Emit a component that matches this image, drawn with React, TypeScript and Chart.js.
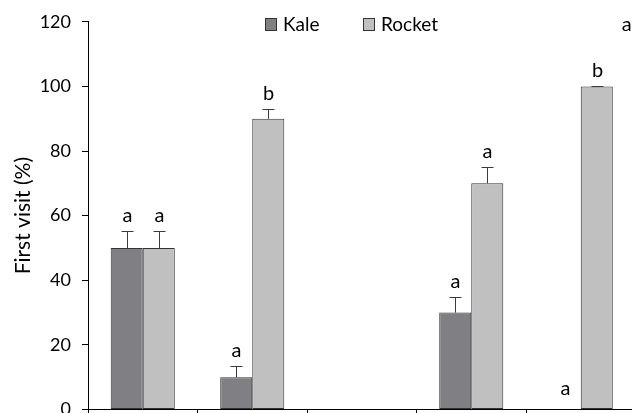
import React, { useEffect, useRef } from "react";
import { Chart, registerables } from "chart.js";

Chart.register(...registerables);

// ---- data ----
const categories = ["T1", "T2", "T3", "T4", "T5"];
const kaleValues: (number | null)[] = [50, 10, null, 30, 0];
const rocketValues: (number | null)[] = [50, 90, null, 70, 100];
const kaleErrors: (number | null)[] = [5.4, 3.4, null, 4.8, 0];
const rocketErrors: (number | null)[] = [5.4, 3, null, 5, 0.2];
const kaleLetters = ["a", "a", "", "a", "a"];
const rocketLetters = ["a", "b", "", "a", "b"];
const seriesNames = ["Kale", "Rocket"];
const cornerLetter = "a";
const yMin = 0;
const yMax = 120;
const yStep = 20;
const yTitle = "First visit (%)";

const FONT = "Lato";
const KALE_COLOR = "#808084";
const ROCKET_COLOR = "#c0c0c0";
const BORDER = "#333333";

const errorsByDataset = [kaleErrors, rocketErrors];
const lettersByDataset = [kaleLetters, rocketLetters];

const annotPlugin = {
  id: "annot",
  afterDatasetsDraw(chart: any) {
    const ctx = chart.ctx;
    const y = chart.scales.y;
    ctx.save();
    // error bars
    chart.data.datasets.forEach((ds: any, di: number) => {
      const meta = chart.getDatasetMeta(di);
      meta.data.forEach((bar: any, i: number) => {
        const v = ds.data[i];
        const e = errorsByDataset[di][i];
        if (v == null || e == null) return;
        const x = Math.round(bar.x) + 0.5;
        const top = y.getPixelForValue(v);
        const errTop = Math.round(y.getPixelForValue(v + e)) + 0.5;
        if (v > 0) {
          ctx.strokeStyle = "#3a3a3a";
          ctx.lineWidth = 1;
          ctx.beginPath();
          ctx.moveTo(x, top);
          ctx.lineTo(x, errTop);
          ctx.moveTo(x - 6, errTop);
          ctx.lineTo(x + 6, errTop);
          ctx.stroke();
        }
        const letter = lettersByDataset[di][i];
        if (letter) {
          ctx.fillStyle = "#000";
          ctx.font = `20px ${FONT}`;
          ctx.textAlign = "center";
          ctx.textBaseline = "alphabetic";
          ctx.fillText(letter, x, errTop - (v > 0 ? 10 : 16));
        }
      });
    });
    // legend
    const ca = chart.chartArea;
    const lx = ca.left + 177;
    const ly = 25;
    const items = [
      { name: seriesNames[0], color: KALE_COLOR, x: lx },
      { name: seriesNames[1], color: ROCKET_COLOR, x: lx + 98 },
    ];
    ctx.font = `19px ${FONT}`;
    ctx.textAlign = "left";
    ctx.textBaseline = "middle";
    items.forEach((it) => {
      ctx.fillStyle = it.color;
      ctx.fillRect(it.x + 0.5, ly - 6.5, 11, 12);
      ctx.strokeStyle = BORDER;
      ctx.lineWidth = 1;
      ctx.strokeRect(it.x + 0.5, ly - 6.5, 11, 12);
      ctx.fillStyle = "#000";
      ctx.fillText(it.name, it.x + 18, ly);
    });
    // corner letter
    ctx.font = `20px ${FONT}`;
    ctx.textAlign = "center";
    ctx.fillText(cornerLetter, chart.scales.x.getPixelForValue(4) + 46, ly);
    ctx.restore();
  },
};

export default function App() {
  const ref = useRef<HTMLCanvasElement>(null);
  useEffect(() => {
    if (!ref.current) return;
    const zeroless = (c: any) => (c.raw === 0 ? 0 : 1);
    const chart = new Chart(ref.current, {
      type: "bar",
      data: {
        labels: categories,
        datasets: [
          {
            label: seriesNames[0],
            data: kaleValues,
            backgroundColor: KALE_COLOR,
            borderColor: BORDER,
            borderWidth: zeroless,
            borderSkipped: false,
            categoryPercentage: 0.585,
            barPercentage: 1,
          },
          {
            label: seriesNames[1],
            data: rocketValues,
            backgroundColor: ROCKET_COLOR,
            borderColor: BORDER,
            borderWidth: zeroless,
            borderSkipped: false,
            categoryPercentage: 0.585,
            barPercentage: 1,
          },
        ],
      },
      options: {
        responsive: false,
        animation: false,
        layout: { padding: { top: 20, right: 24.5, left: 0, bottom: 0 } },
        plugins: { legend: { display: false }, tooltip: { enabled: false } },
        scales: {
          x: {
            offset: true,
            ticks: { display: false },
            grid: {
              offset: true,
              drawOnChartArea: false,
              drawTicks: true,
              tickLength: 6,
              color: "#000",
            },
            border: { display: true, color: "#000", width: 1 },
            afterFit: (s: any) => {
              s.height = 30.5;
            },
          },
          y: {
            min: yMin,
            max: yMax,
            ticks: {
              stepSize: yStep,
              color: "#000",
              padding: 11,
              font: { family: FONT, size: 18 },
            },
            grid: {
              drawOnChartArea: false,
              drawTicks: true,
              tickLength: 6,
              color: "#000",
            },
            border: { display: true, color: "#000", width: 1 },
            title: {
              display: true,
              text: yTitle,
              color: "#000",
              font: { family: FONT, size: 21 },
              padding: { top: 11, bottom: 0 },
            },
            afterFit: (s: any) => {
              s.width = 88;
            },
          },
        },
      },
      plugins: [annotPlugin],
    });
    return () => chart.destroy();
  }, []);
  return (
    <div
      style={{
        position: "fixed",
        left: 0,
        top: 0,
        width: 632,
        height: 413,
        overflow: "hidden",
        background: "#fff",
      }}
    >
      <canvas ref={ref} width={660} height={440} style={{ width: 660, height: 440, display: "block" }} />
    </div>
  );
}
